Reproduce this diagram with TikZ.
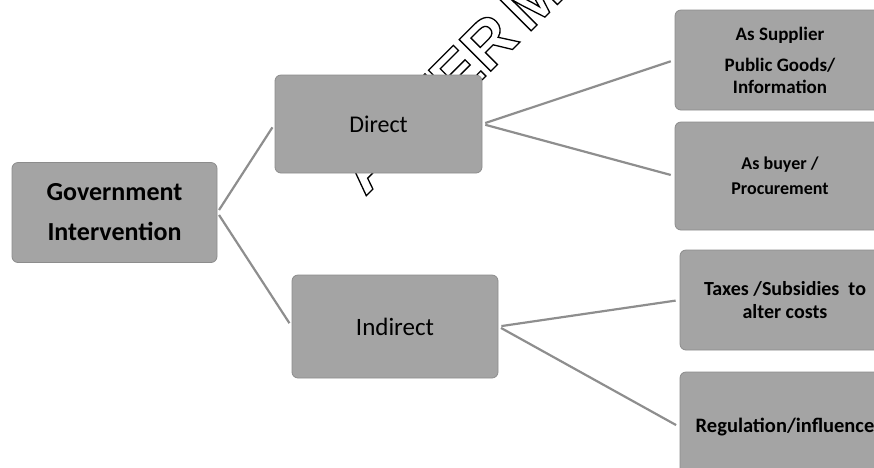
\documentclass[tikz,border=0pt]{standalone}
\usepackage{fontspec}
\setmainfont{Carlito}
\newfontfamily\wmfont{Liberation Sans}
\definecolor{boxgray}{HTML}{A4A4A4}
\definecolor{boxedge}{HTML}{8C8C8C}
\definecolor{linegray}{HTML}{8E8E8E}
\newcommand{\outlinetext}[1]{\special{pdf:literal 1 Tr 1.3 w}#1\special{pdf:literal 0 Tr}}
\begin{document}
\begin{tikzpicture}[x=1pt,y=-1pt,
  box/.style={draw=boxedge, line width=0.8pt, fill=boxgray, rounded corners=6pt,
    inner sep=0pt, align=center, text=black},
  conn/.style={draw=linegray, line width=2.2pt, shorten <=3pt, shorten >=4pt},
  wm/.style={inner sep=0pt, anchor=base west, rotate=45, font=\wmfont\bfseries\fontsize{65}{65}\selectfont}]
\useasboundingbox (0,0) rectangle (874,467);
% boxes
\node[box, minimum width=205pt, minimum height=100pt,
  font=\bfseries\fontsize{26}{40}\selectfont] (gov) at (114.5,212.5) {Government\\Intervention};
\node[box, minimum width=207pt, minimum height=98pt,
  font=\fontsize{24}{28}\selectfont] (dir) at (378.5,124) {Direct};
\node[box, minimum width=206pt, minimum height=103pt,
  font=\fontsize{25}{28}\selectfont] (ind) at (395,326.5) {Indirect};
\node[box, minimum width=210pt, minimum height=100pt,
  font=\bfseries\fontsize{19}{22}\selectfont] (sup) at (780,60) {As Supplier\\[9pt]Public Goods/\\Information};
\node[box, minimum width=210pt, minimum height=108pt,
  font=\bfseries\fontsize{18}{25}\selectfont] (buy) at (780,176) {As buyer /\\Procurement};
\node[box, minimum width=210pt, minimum height=100pt,
  font=\bfseries\fontsize{20}{23}\selectfont] (tax) at (785,300) {Taxes /Subsidies~~to\\alter costs};
\node[box, minimum width=210pt, minimum height=110pt,
  font=\bfseries\fontsize{20.5}{23}\selectfont] (reg) at (785,427) {Regulation/influence};
% watermark, hidden behind the Direct box
\begin{scope}[even odd rule]
  \clip (0,0) rectangle (874,467) [rounded corners=6pt] (dir.north west) rectangle (dir.south east);
  \node[wm] (wmark) at (365,197) {\outlinetext{ASTER\kern-0.12em\ M}};
\end{scope}
% connectors
\draw[conn] (gov.east) -- (dir.west);
\draw[conn] (gov.east) -- (ind.west);
\draw[conn] (dir.east) -- (sup.west);
\draw[conn] (dir.east) -- (buy.west);
\draw[conn] (ind.east) -- (tax.west);
\draw[conn] (ind.east) -- (reg.west);
\end{tikzpicture}
\end{document}
